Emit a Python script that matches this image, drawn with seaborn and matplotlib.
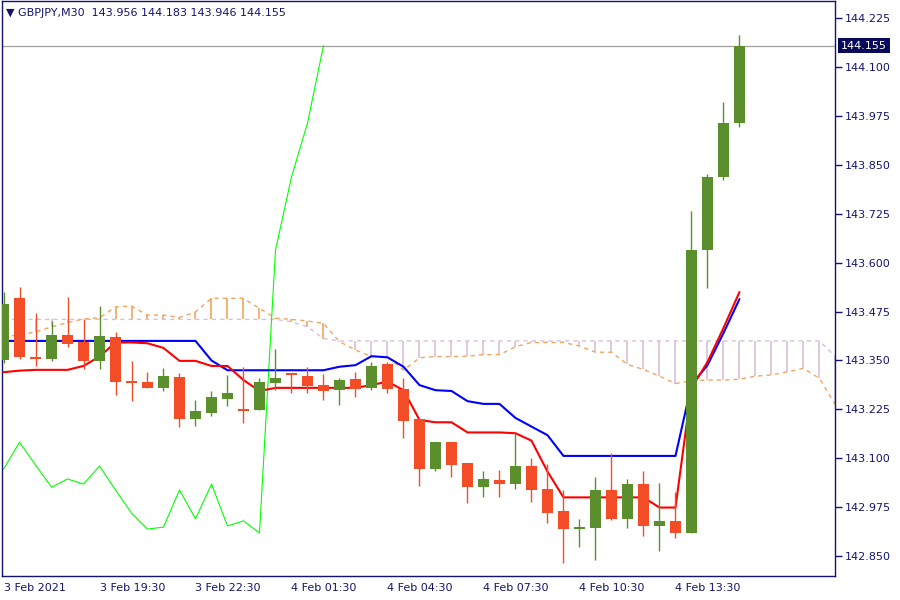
import numpy as np
import pandas as pd
import seaborn as sns
import matplotlib.pyplot as plt
import matplotlib.transforms as mtransforms

# GBPJPY M30, 3 Feb 16:30 -> 4 Feb 15:30 (47 bars)
opens = [143.351, 143.509, 143.359, 143.354, 143.415, 143.397, 143.349, 143.410, 143.298, 143.295,
         143.280, 143.308, 143.201, 143.216, 143.251, 143.226, 143.223, 143.293, 143.318, 143.310,
         143.287, 143.274, 143.302, 143.279, 143.341, 143.277, 143.200, 143.072, 143.141, 143.088,
         143.026, 143.044, 143.034, 143.080, 143.021, 142.965, 142.919, 142.922, 143.019, 142.945,
         143.034, 142.927, 142.940, 142.909, 143.632, 143.819, 143.956]
highs = [143.525, 143.538, 143.472, 143.451, 143.512, 143.455, 143.488, 143.423, 143.348, 143.320,
         143.331, 143.318, 143.249, 143.272, 143.313, 143.333, 143.305, 143.379, 143.318, 143.333,
         143.315, 143.305, 143.320, 143.346, 143.346, 143.305, 143.203, 143.141, 143.141, 143.088,
         143.067, 143.070, 143.164, 143.101, 143.085, 143.019, 142.945, 143.052, 143.113, 143.047,
         143.067, 143.037, 143.014, 143.732, 143.826, 144.010, 144.183]
lows = [143.343, 143.354, 143.336, 143.348, 143.385, 143.329, 143.329, 143.262, 143.247, 143.279,
        143.272, 143.181, 143.183, 143.208, 143.233, 143.190, 143.223, 143.274, 143.267, 143.267,
        143.249, 143.236, 143.256, 143.274, 143.267, 143.152, 143.029, 143.067, 143.052, 142.985,
        143.001, 143.001, 143.021, 142.988, 142.934, 142.832, 142.873, 142.840, 142.943, 142.922,
        142.901, 142.863, 142.896, 142.909, 143.535, 143.811, 143.946]
closes = [143.494, 143.359, 143.354, 143.415, 143.392, 143.349, 143.412, 143.296, 143.293, 143.280,
          143.310, 143.201, 143.221, 143.256, 143.267, 143.221, 143.295, 143.305, 143.313, 143.285,
          143.272, 143.300, 143.277, 143.336, 143.277, 143.195, 143.072, 143.141, 143.083, 143.026,
          143.047, 143.034, 143.080, 143.019, 142.960, 142.919, 142.924, 143.019, 142.945, 143.034,
          142.927, 142.940, 142.909, 143.632, 143.819, 143.957, 144.155]

tenkan = [143.320, 143.324, 143.326, 143.326, 143.326, 143.336, 143.360, 143.396, 143.396, 143.394,
          143.382, 143.349, 143.349, 143.336, 143.336, 143.300, 143.272, 143.280, 143.280, 143.280,
          143.280, 143.280, 143.280, 143.287, 143.296, 143.274, 143.198, 143.192, 143.192, 143.166,
          143.166, 143.166, 143.164, 143.145, 143.066, 143.000, 143.000, 143.000, 143.000, 143.000,
          143.000, 142.974, 142.974, 143.280, 143.346, 143.433, 143.525]
kijun = [143.400, 143.400, 143.400, 143.400, 143.400, 143.400, 143.400, 143.400, 143.400, 143.400,
         143.400, 143.400, 143.400, 143.350, 143.325, 143.325, 143.325, 143.325, 143.325, 143.325,
         143.325, 143.334, 143.338, 143.361, 143.358, 143.334, 143.287, 143.274, 143.272, 143.246,
         143.239, 143.239, 143.203, 143.181, 143.159, 143.106, 143.106, 143.106, 143.106, 143.106,
         143.106, 143.106, 143.106, 143.288, 143.338, 143.420, 143.507]

# senkou spans, already shifted 26 bars forward (53 points)
span_a = [143.411, 143.415, 143.423, 143.436, 143.447, 143.456, 143.459, 143.487, 143.489, 143.466,
          143.466, 143.460, 143.474, 143.509, 143.509, 143.509, 143.483, 143.458, 143.455, 143.451,
          143.445, 143.398, 143.377, 143.360, 143.360, 143.325, 143.357, 143.360, 143.360, 143.361,
          143.365, 143.365, 143.385, 143.396, 143.396, 143.396, 143.387, 143.371, 143.371, 143.340,
          143.327, 143.310, 143.291, 143.298, 143.300, 143.300, 143.302, 143.310, 143.313, 143.321,
          143.330, 143.304, 143.236]
span_b = [143.455] * 18 + [143.449, 143.436, 143.406] + [143.400] * 31 + [143.359]

tick_bars = [0, 6, 12, 18, 24, 30, 36, 42]
tick_labels = ["3 Feb 2021", "3 Feb 19:30", "3 Feb 22:30", "4 Feb 01:30",
               "4 Feb 04:30", "4 Feb 07:30", "4 Feb 10:30", "4 Feb 13:30"]

navy = "#14146e"
up_col = "#5b8f2e"
dn_col = "#f24d27"

sns.set_theme(style="white")
plt.rcParams["font.family"] = ["DejaVu Sans"]

df = pd.DataFrame({"o": opens, "h": highs, "l": lows, "c": closes,
                   "tenkan": tenkan, "kijun": kijun})
df["bar"] = np.arange(len(df))

fig = plt.figure(figsize=(9, 6), dpi=100)
ax = fig.add_axes([2 / 900, 24 / 600, 833 / 900, 575 / 600])

# cloud
cloud = pd.DataFrame({"a": span_a, "b": span_b})
cloud["bar"] = np.arange(len(cloud))
for i, r in cloud.iterrows():
    col = "#f4a460" if r.a > r.b else "#d8bfd8"
    ax.vlines(r.bar, min(r.a, r.b), max(r.a, r.b), color=col, lw=1.2, zorder=1)
sns.lineplot(data=cloud, x="bar", y="b", ax=ax, color="#d8bfd8", lw=1,
             linestyle=(0, (3, 3)), zorder=1)
sns.lineplot(data=cloud, x="bar", y="a", ax=ax, color="#f4a460", lw=1,
             linestyle=(0, (3, 3)), zorder=1.1)

# chikou = close shifted 26 back
chikou = pd.DataFrame({"bar": np.arange(len(closes) - 26), "v": closes[26:]})
sns.lineplot(data=chikou, x="bar", y="v", ax=ax, color="#00ff00", lw=0.8, zorder=2)
sns.lineplot(data=df, x="bar", y="kijun", ax=ax, color="#0000ff", lw=1.5, zorder=3)
sns.lineplot(data=df, x="bar", y="tenkan", ax=ax, color="#ff0000", lw=1.5, zorder=3.1)

# candles
for i, r in df.iterrows():
    col = up_col if r.c >= r.o else dn_col
    ax.vlines(r.bar, r.l, r.h, color=col, lw=1, zorder=4)
    lo, hi = min(r.o, r.c), max(r.o, r.c)
    ax.bar(r.bar, max(hi - lo, 0.005), bottom=lo, width=0.69, color=col,
           edgecolor="none", linewidth=0, zorder=5)

# current price line
last = closes[-1]
ax.axhline(last, color="#a0a0a0", lw=0.9, zorder=0.5)

ax.set_xlim(-0.094, 51.97)
ax.set_ylim(142.799, 144.269)
ax.set_xlabel("")
ax.set_ylabel("")

yt = 142.850 + 0.125 * np.arange(12)
ax.yaxis.tick_right()
ax.set_yticks(yt)
ax.set_yticklabels([f"{v:.3f}" for v in yt])
ax.set_xticks(tick_bars)
ax.set_xticklabels(tick_labels, ha="left")
ax.tick_params(axis="both", which="both", direction="out", length=5, width=1,
               color=navy, labelcolor=navy, labelsize=8, pad=2)
ax.tick_params(axis="x", pad=0)
for s in ax.spines.values():
    s.set_color(navy)
    s.set_linewidth(1)
    s.set_visible(True)

# price tag on the right axis
trans = mtransforms.blended_transform_factory(ax.transAxes, ax.transData)
ax.text(1.0 + 6 / 833, last, f"{last:.3f}", transform=trans, ha="left", va="center",
        fontsize=8, color="white", zorder=10, clip_on=False,
        bbox=dict(boxstyle="square,pad=0.25", facecolor="#0a0a5a", edgecolor="none"))

fig.text(6 / 900, 1 - 13 / 600, "\u25bc GBPJPY,M30  143.956 144.183 143.946 144.155",
         fontsize=8, color=navy, va="center", ha="left")

fig.savefig("out.png", dpi=100)
